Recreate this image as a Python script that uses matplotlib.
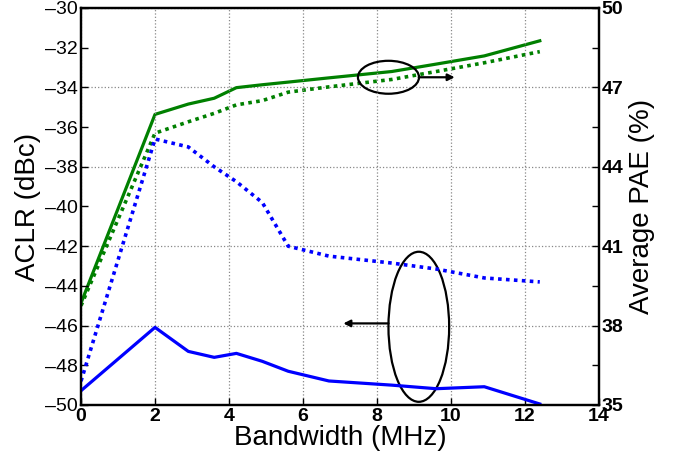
import numpy as np
import matplotlib
matplotlib.use("Agg")
from matplotlib import pyplot as plt
from matplotlib.patches import Ellipse

plt.rcParams['font.family'] = ['Liberation Sans', 'DejaVu Sans']

# Bandwidth (MHz)
bw = [0, 2, 2.9, 3.6, 4.2, 4.9, 5.6, 6.7, 8.4, 9.6, 10.9, 12.4]

# Average PAE (%) - right axis
pae_solid = [38.85, 45.98, 46.37, 46.59, 46.99, 47.1, 47.2, 47.36, 47.6, 47.88, 48.19, 48.76]
pae_dotted = [38.75, 45.27, 45.7, 46.02, 46.34, 46.5, 46.82, 47.02, 47.3, 47.6, 47.93, 48.35]

# ACLR (dBc) - left axis
aclr_solid = [-49.28, -46.09, -47.3, -47.6, -47.4, -47.8, -48.3, -48.79, -49.0, -49.18, -49.08, -49.95]
aclr_dotted = [-48.8, -36.6, -37.0, -38.0, -38.75, -39.8, -42.0, -42.5, -42.85, -43.15, -43.6, -43.8]

fig = plt.figure(figsize=(6.83, 4.62), dpi=100)
ax = fig.add_axes([0.1186, 0.1234, 0.7584, 0.8593])
ax2 = ax.twinx()
# left axis on top so blue lines sit above the right-axis grid
ax.set_zorder(ax2.get_zorder() + 1)
ax.patch.set_visible(False)

green = '#008000'
blue = '#0000ff'

ax2.plot(bw, pae_solid, color=green, lw=2.3)
ax2.plot(bw, pae_dotted, color=green, lw=2.6, linestyle=(0, (1, 1.2)))
ax.plot(bw, aclr_solid, color=blue, lw=2.3)
ax.plot(bw, aclr_dotted, color=blue, lw=2.6, linestyle=(0, (1, 1.2)))

ax.set_xlim(0, 14)
ax.set_ylim(-50, -30)
ax2.set_ylim(35, 50)

ax.set_xticks(np.arange(0, 15, 2))
ax.set_yticks(np.arange(-50, -29, 2))
ax.set_yticklabels([f"\u2013{abs(v)}" for v in range(-50, -29, 2)])

r_ticks = np.arange(35, 50.1, 1.5)
ax2.set_yticks(r_ticks)
ax2.set_yticklabels([f"{int(t)}" if t == int(t) else "" for t in r_ticks],
                    fontweight='bold')

for t in ax.get_xticklabels():
    t.set_fontweight('bold')

ax.tick_params(axis='both', direction='in', length=5, width=1, labelsize=14, pad=2)
ax2.tick_params(axis='y', direction='in', length=5, width=1, labelsize=14, pad=2)

# grid: vertical from x ticks, horizontal from right-axis labelled ticks
ax.grid(axis='x', linestyle=':', color='#888888', lw=0.9)
for v in [35, 38, 41, 44, 47, 50]:
    ax2.axhline(v, linestyle=':', color='#888888', lw=0.9, zorder=0)

for a in (ax, ax2):
    for s in a.spines.values():
        s.set_linewidth(1.6)

ax.set_xlabel("Bandwidth (MHz)", fontsize=20, labelpad=0)
ax.set_ylabel("ACLR (dBc)", fontsize=20, labelpad=3)
ax2.set_ylabel("Average PAE (%)", fontsize=20, labelpad=4)

# annotations (left-axis data coordinates)
ax.add_patch(Ellipse((8.31, -33.49), 1.65, 1.66, fill=False, lw=1.6, color='black'))
ax.annotate("", xy=(10.1, -33.49), xytext=(9.13, -33.49),
            arrowprops=dict(arrowstyle='-|>', color='black', lw=1.6, mutation_scale=10,
                            shrinkA=0, shrinkB=0))
ax.add_patch(Ellipse((9.13, -46.06), 1.64, 7.56, fill=False, lw=1.6, color='black'))
ax.annotate("", xy=(7.09, -45.89), xytext=(8.31, -45.89),
            arrowprops=dict(arrowstyle='-|>', color='black', lw=1.6, mutation_scale=10,
                            shrinkA=0, shrinkB=0))

fig.savefig("out.png", dpi=100)
